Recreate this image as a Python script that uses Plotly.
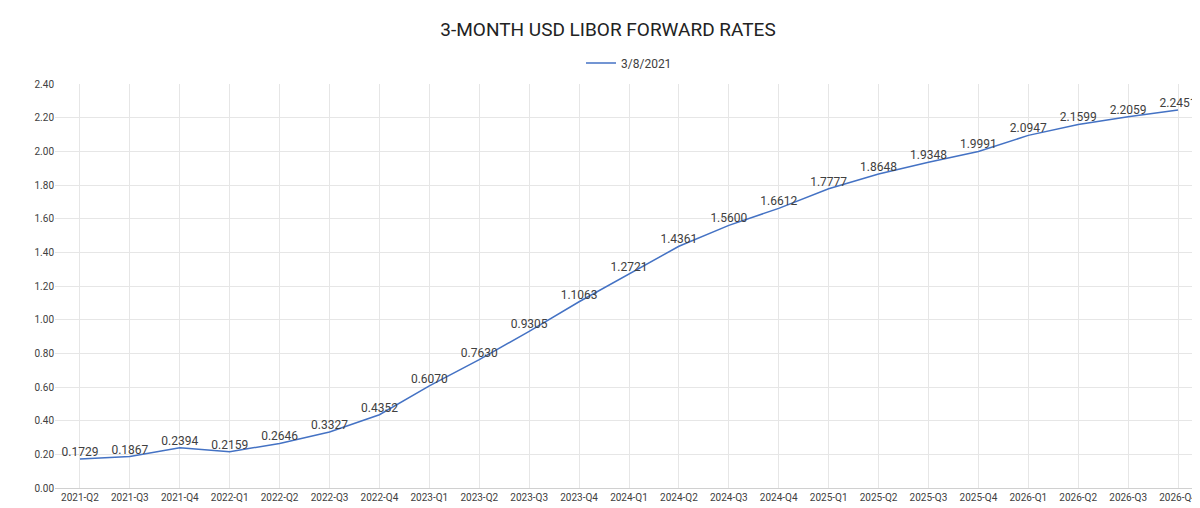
import plotly.graph_objects as go

quarters = ["2021-Q2", "2021-Q3", "2021-Q4", "2022-Q1", "2022-Q2", "2022-Q3", "2022-Q4",
            "2023-Q1", "2023-Q2", "2023-Q3", "2023-Q4", "2024-Q1", "2024-Q2", "2024-Q3",
            "2024-Q4", "2025-Q1", "2025-Q2", "2025-Q3", "2025-Q4", "2026-Q1", "2026-Q2",
            "2026-Q3", "2026-Q4"]
rates = [0.1729, 0.1867, 0.2394, 0.2159, 0.2646, 0.3327, 0.4352, 0.6070, 0.7630, 0.9305,
         1.1063, 1.2721, 1.4361, 1.5600, 1.6612, 1.7777, 1.8648, 1.9348, 1.9991, 2.0947,
         2.1599, 2.2059, 2.2451]
y_ticks = [i * 0.2 for i in range(13)]

fig = go.Figure()
fig.add_trace(go.Scatter(
    x=quarters, y=rates, name="3/8/2021", mode="lines+text",
    line=dict(color="#4472C4", width=1.5),
    text=[f"{v:.4f}" for v in rates], textposition="top center",
    textfont=dict(size=12, color="#404040"),
))

fig.update_layout(
    width=1200, height=508,
    margin=dict(l=47, r=5, t=76, b=28),
    paper_bgcolor="white", plot_bgcolor="white",
    font=dict(family="Roboto", color="#404040"),
    title=dict(text="3-MONTH USD LIBOR FORWARD RATES", x=0.5, y=0.957, xanchor="center",
               yanchor="middle", font=dict(size=19, color="#222")),
    legend=dict(orientation="h", x=0.5, xanchor="center", y=1.052, yanchor="middle",
                font=dict(size=12)),
    showlegend=True,
)
fig.update_xaxes(type="category", range=[-0.5, len(quarters) - 0.5], showgrid=True,
                 gridcolor="#e6e6e6", tickfont=dict(size=10),
                 showline=True, linecolor="#d0d0d0", ticks="")
fig.update_yaxes(range=[0, 2.4], tickvals=y_ticks, tickformat=".2f", showgrid=True,
                 gridcolor="#e6e6e6", tickfont=dict(size=10), zeroline=False)

fig.write_html("out.html")
